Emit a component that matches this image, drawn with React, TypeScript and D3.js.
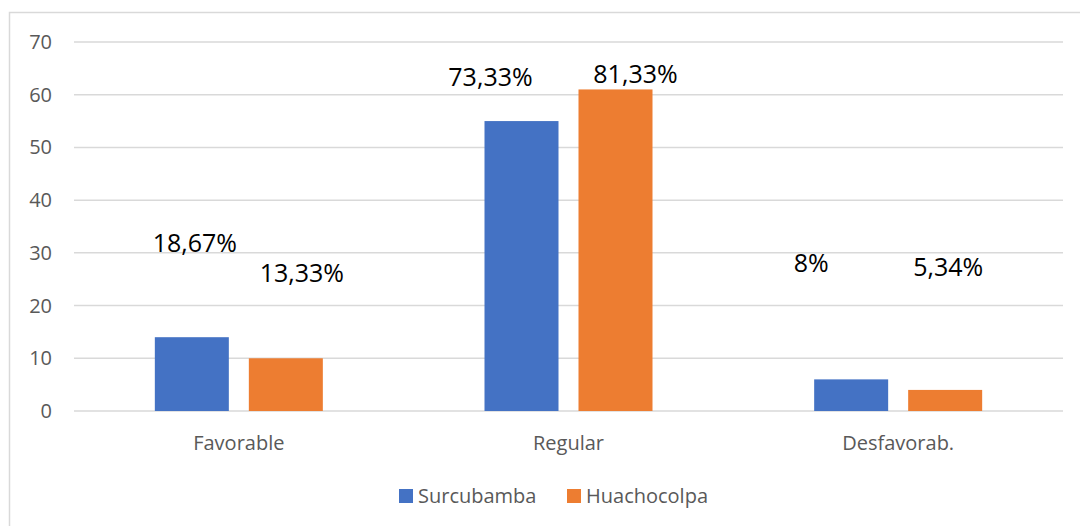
import { useEffect, useRef } from 'react';
import * as d3 from 'd3';

const categories = ['Favorable', 'Regular', 'Desfavorab.'];
const seriesNames = ['Surcubamba', 'Huachocolpa'];
const surcubamba = [14, 55, 6];
const huachocolpa = [10, 61, 4];
const surcubambaLabels = ['18,67%', '73,33%', '8%'];
const huachocolpaLabels = ['13,33%', '81,33%', '5,34%'];
const yTicks = [0, 10, 20, 30, 40, 50, 60, 70];
const colors = ['#4472C4', '#ED7D31'];

// manual label placement from the original: [dx from bar centre in px, height in value units]
const labelPlace = [
  [[3, 30.2], [16, 24.5], [-31, 61.7], [20, 62.2], [-40, 26.4], [3, 25.6]],
];

const W = 1080;
const H = 526;
const margin = { top: 42, right: 17, bottom: 115, left: 74 };

const App = () => {
  const svgRef = useRef<SVGSVGElement>(null);

  useEffect(() => {
    if (!svgRef.current) return;
    const svg = d3.select(svgRef.current);
    svg.selectAll('*').remove();

    const font = '"Open Sans", "Liberation Sans", sans-serif';
    const grey = '#595959';

    // outer chart border (right and bottom edges run off the page)
    svg.append('rect')
      .attr('x', 9.5).attr('y', 12.5)
      .attr('width', 1100).attr('height', 600)
      .attr('fill', 'white')
      .attr('stroke', '#d9d9d9').attr('stroke-width', 1.5);

    const innerW = W - margin.left - margin.right;
    const y = d3.scaleLinear().domain([0, 70]).range([411, margin.top]);
    const x0 = d3.scaleBand().domain(categories).range([margin.left, margin.left + innerW]).padding(0);
    const groupW = 168;
    const x1 = d3.scaleBand()
      .domain(seriesNames)
      .range([(x0.bandwidth() - groupW) / 2, (x0.bandwidth() + groupW) / 2])
      .paddingInner(0.2128)
      .paddingOuter(0);

    // gridlines
    svg.append('g').selectAll('line')
      .data(yTicks)
      .enter().append('line')
      .attr('x1', margin.left).attr('x2', margin.left + innerW)
      .attr('y1', d => y(d)).attr('y2', d => y(d))
      .attr('stroke', '#d9d9d9').attr('stroke-width', 1.5);

    // y tick labels
    svg.append('g').selectAll('text')
      .data(yTicks)
      .enter().append('text')
      .attr('x', 52).attr('y', d => y(d))
      .attr('dy', '0.35em')
      .attr('text-anchor', 'end')
      .attr('font-family', font).attr('font-size', 20)
      .attr('fill', grey)
      .text(d => d);

    const series = [surcubamba, huachocolpa];
    const labels = [surcubambaLabels, huachocolpaLabels];

    series.forEach((vals, si) => {
      svg.append('g').selectAll('rect')
        .data(vals)
        .enter().append('rect')
        .attr('x', (_, i) => (x0(categories[i]) ?? 0) + (x1(seriesNames[si]) ?? 0))
        .attr('y', d => y(d))
        .attr('width', x1.bandwidth())
        .attr('height', d => y(0) - y(d))
        .attr('fill', colors[si]);
    });

    // data labels
    categories.forEach((c, ci) => {
      seriesNames.forEach((s, si) => {
        const place = labelPlace[0][ci * 2 + si];
        const cx = (x0(c) ?? 0) + (x1(s) ?? 0) + x1.bandwidth() / 2 + place[0];
        svg.append('text')
          .attr('x', cx).attr('y', y(place[1]))
          .attr('text-anchor', 'middle')
          .attr('font-family', font).attr('font-size', 25)
          .attr('fill', '#000')
          .text(labels[si][ci]);
      });
    });

    // category labels
    svg.append('g').selectAll('text')
      .data(categories)
      .enter().append('text')
      .attr('x', d => (x0(d) ?? 0) + x0.bandwidth() / 2)
      .attr('y', 450)
      .attr('text-anchor', 'middle')
      .attr('font-family', font).attr('font-size', 20)
      .attr('fill', grey)
      .text(d => d);

    // legend
    const legendX = [399, 567];
    seriesNames.forEach((s, i) => {
      const g = svg.append('g').attr('transform', `translate(${legendX[i]},489)`);
      g.append('rect').attr('width', 14).attr('height', 14).attr('fill', colors[i]);
      g.append('text')
        .attr('x', 19).attr('y', 14)
        .attr('font-family', font).attr('font-size', 20)
        .attr('fill', grey)
        .text(s);
    });
  }, []);

  return (
    <svg
      ref={svgRef}
      width={W}
      height={H}
      style={{ position: 'absolute', left: 0, top: 0, display: 'block' }}
    />
  );
};

export default App;
